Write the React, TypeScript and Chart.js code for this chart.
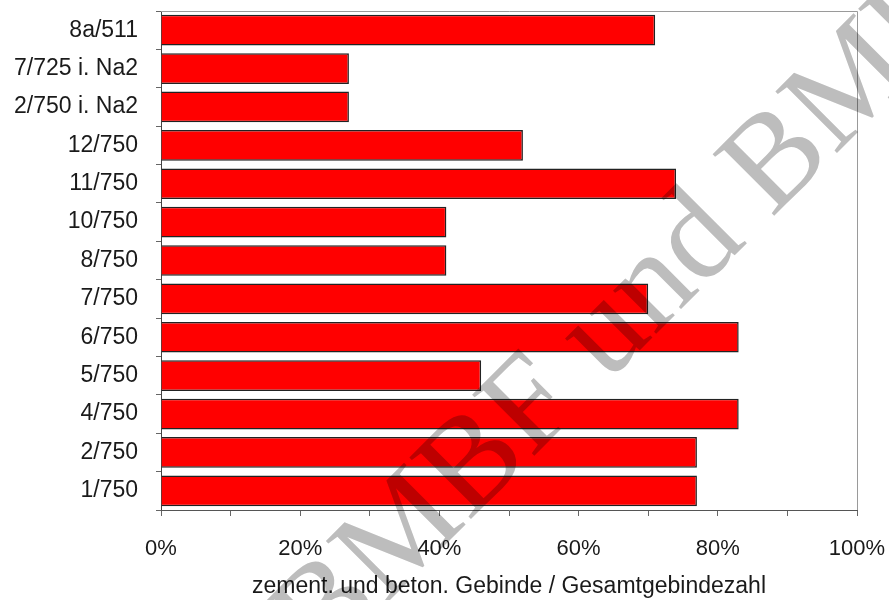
import React, { useEffect, useRef } from "react";
import { Chart, registerables } from "chart.js";

Chart.register(...registerables);

const categories = [
  "8a/511",
  "7/725 i. Na2",
  "2/750 i. Na2",
  "12/750",
  "11/750",
  "10/750",
  "8/750",
  "7/750",
  "6/750",
  "5/750",
  "4/750",
  "2/750",
  "1/750",
];
const values = [71, 27, 27, 52, 74, 41, 41, 70, 83, 46, 83, 77, 77];
const xTitle = "zement. und beton. Gebinde / Gesamtgebindezahl";
const watermarkText = "BMBF und BMU";

const FONT = "'Liberation Sans', Arial, sans-serif";

const framePlugin = {
  id: "frame",
  afterDatasetsDraw(chart: any) {
    const { ctx, chartArea } = chart;
    ctx.save();
    ctx.strokeStyle = "#9a9a9a";
    ctx.lineWidth = 1;
    ctx.beginPath();
    ctx.moveTo(chartArea.left, chartArea.top + 0.5);
    ctx.lineTo(chartArea.right + 0.5, chartArea.top + 0.5);
    ctx.lineTo(chartArea.right + 0.5, chartArea.bottom);
    ctx.stroke();
    ctx.restore();
  },
};

const watermarkPlugin = {
  id: "watermark",
  afterDraw(chart: any) {
    const { ctx } = chart;
    ctx.save();
    ctx.globalCompositeOperation = "multiply";
    ctx.fillStyle = "#bdbdbd";
    ctx.strokeStyle = "#bdbdbd";
    ctx.lineWidth = 1.5;
    ctx.font = "133px 'Liberation Serif', 'Times New Roman', serif";
    ctx.textBaseline = "alphabetic";
    ctx.translate(322, 668);
    ctx.rotate(-Math.PI / 4);
    ctx.fillText(watermarkText, 0, 0);
    ctx.restore();
  },
};

export default function App() {
  const ref = useRef<HTMLCanvasElement | null>(null);
  useEffect(() => {
    if (!ref.current) return;
    const chart = new Chart(ref.current, {
      type: "bar",
      data: {
        labels: categories,
        datasets: [
          {
            data: values,
            backgroundColor: "#ff0000",
            borderColor: "#222222",
            borderWidth: 1.5,
            categoryPercentage: 1,
            barPercentage: 0.8,
          },
        ],
      },
      options: {
        indexAxis: "y",
        animation: false,
        responsive: false,
        maintainAspectRatio: false,
        layout: { padding: { top: 11, right: 32, left: 0, bottom: 0 } },
        plugins: {
          legend: { display: false },
          tooltip: { enabled: false },
        },
        scales: {
          y: {
            type: "category",
            offset: true,
            afterFit(scale: any) {
              scale.width = 161;
              scale.paddingTop = 0;
              scale.paddingBottom = 0;
            },
            grid: {
              offset: true,
              drawOnChartArea: false,
              drawTicks: true,
              tickLength: 5,
              color: "#666",
            },
            border: { display: true, color: "#444", width: 1 },
            ticks: {
              color: "#1a1a1a",
              padding: 18,
              font: { family: FONT, size: 23 },
              autoSkip: false,
            },
          },
          x: {
            type: "linear",
            min: 0,
            max: 100,
            afterFit(scale: any) {
              scale.height = 90;
              scale.paddingLeft = 0;
              scale.paddingRight = 0;
            },
            grid: {
              drawOnChartArea: false,
              drawTicks: true,
              tickLength: 6,
              color: "#666",
            },
            border: { display: true, color: "#555", width: 1 },
            ticks: {
              stepSize: 10,
              autoSkip: false,
              maxRotation: 0,
              padding: 20,
              color: "#1a1a1a",
              font: { family: FONT, size: 22 },
              callback: (v: any) => (Number(v) % 20 === 0 ? v + "%" : ""),
            },
            title: {
              display: true,
              text: xTitle,
              color: "#1a1a1a",
              font: { family: FONT, size: 23 },
              padding: { top: 4, bottom: 0 },
            },
          },
        },
      },
      plugins: [framePlugin, watermarkPlugin],
    });
    return () => chart.destroy();
  }, []);
  return (
    <div style={{ position: "absolute", left: 0, top: 0, width: 889, height: 600, background: "#fff" }}>
      <canvas ref={ref} width={889} height={600} style={{ width: 889, height: 600 }} />
    </div>
  );
}
